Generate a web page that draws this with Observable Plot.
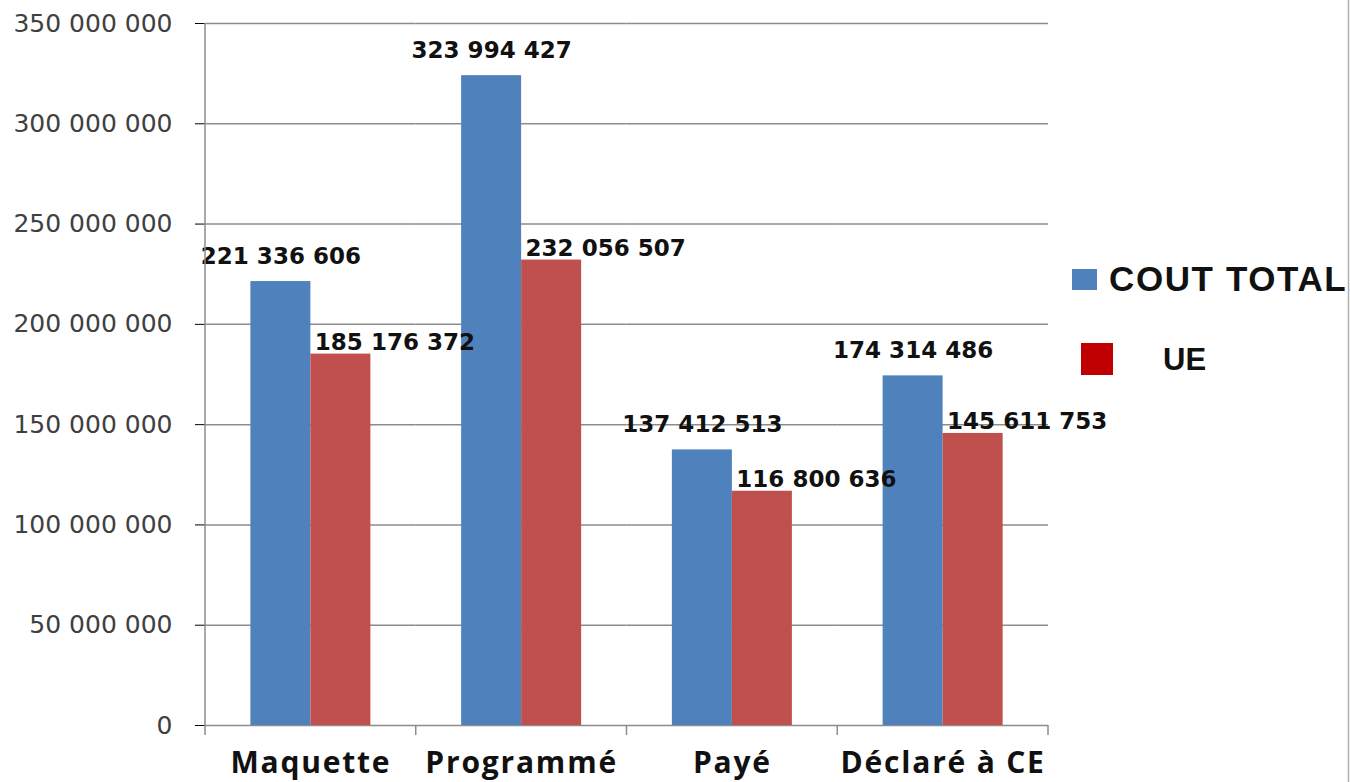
<!DOCTYPE html>
<html>
<head>
<meta charset="utf-8">
<script src="https://cdn.jsdelivr.net/npm/d3@7"></script>
<script src="https://cdn.jsdelivr.net/npm/@observablehq/plot@0.6"></script>
<style>
  html, body { margin: 0; padding: 0; background: #fff; }
  #chart { position: relative; width: 1350px; height: 782px; overflow: hidden; }
  svg { font-family: "DejaVu Sans", sans-serif; }
  [aria-label^="fx-axis"] text { font-family: "Open Sans", sans-serif; font-weight: 700; font-size: 30px; letter-spacing: 1.8px; fill: #111; }
  [aria-label^="y-axis"] text { font-family: "DejaVu Sans", sans-serif; font-size: 25px; fill: #404040; }
</style>
</head>
<body>
<div id="chart"></div>
<script>
const categories = ["Maquette", "Programmé", "Payé", "Déclaré à CE"];
const seriesNames = ["COUT TOTAL", "UE"];
const coutTotal = [221336606, 323994427, 137412513, 174314486];
const ue = [185176372, 232056507, 116800636, 145611753];
const yTicks = [0, 50000000, 100000000, 150000000, 200000000, 250000000, 300000000, 350000000];
const barColors = ["#4F81BD", "#C0504D"];
const legendColors = ["#4F81BD", "#C00000"];

const locale = d3.formatLocale({decimal: ",", thousands: " ", grouping: [3], currency: ["", ""]});
const fmt = locale.format(",d");

const data = [];
categories.forEach((c, i) => {
  data.push({cat: c, series: seriesNames[0], value: coutTotal[i]});
  data.push({cat: c, series: seriesNames[1], value: ue[i]});
});

const plot = Plot.plot({
  width: 1350,
  height: 782,
  marginTop: 23,
  marginBottom: 57,
  marginLeft: 205,
  marginRight: 302,
  style: {background: "#fff", overflow: "visible"},
  fx: {domain: categories, paddingInner: 0, paddingOuter: 0, round: false, axis: "bottom", tickSize: 0, tickPadding: 26, label: null},
  x: {domain: seriesNames, paddingInner: 0, paddingOuter: 0.756, axis: null, round: false},
  y: {domain: [0, 350000000], ticks: yTicks, tickFormat: fmt, tickSize: 10, tickPadding: 23, label: null},
  color: {domain: seriesNames, range: barColors},
  marks: [
    Plot.ruleY(yTicks, {stroke: "#8c8c8c", strokeWidth: 1.5}),
    Plot.barY(data, {fx: "cat", x: "series", y: "value", fill: "series", insetLeft: 0, insetRight: 0}),
    Plot.text(data.filter(d => d.series === seriesNames[0]), {
      fx: "cat", x: "series", y: "value", text: d => fmt(d.value),
      lineAnchor: "bottom", dy: -18, fontSize: 23, fontWeight: "bold", fill: "#111",
      fontFamily: "DejaVu Sans"
    }),
    Plot.text(data.filter(d => d.series === seriesNames[1]), {
      fx: "cat", x: "series", y: "value", text: d => fmt(d.value),
      lineAnchor: "bottom", dx: 54, dy: -4, fontSize: 23, fontWeight: "bold", fill: "#111",
      fontFamily: "DejaVu Sans"
    })
  ]
});

document.getElementById("chart").appendChild(plot);

// axis lines and category separator ticks from Plot's scales
const svg = d3.select(plot);
const fx = plot.scale("fx");
const y = plot.scale("y");
const y0 = y.apply(0);
const yTop = y.apply(350000000);
const g = svg.append("g").attr("stroke", "#8c8c8c").attr("stroke-width", 1.5);
const x0 = fx.apply(categories[0]);
g.append("line").attr("x1", x0).attr("x2", x0).attr("y1", yTop).attr("y2", y0 + 10);
categories.map(c => fx.apply(c) + fx.bandwidth).forEach(x => {
  g.append("line").attr("x1", x).attr("x2", x).attr("y1", y0).attr("y2", y0 + 10);
});

// right border of the picture
svg.append("line").attr("x1", 1348.5).attr("x2", 1348.5).attr("y1", 0).attr("y2", 782)
  .attr("stroke", "#b0b0b0").attr("stroke-width", 1.5);

// legend
const lg = svg.append("g").attr("text-anchor", "start");
lg.append("rect").attr("x", 1072).attr("y", 269).attr("width", 25).attr("height", 21).attr("fill", legendColors[0]);
lg.append("text").attr("x", 1109).attr("y", 291).attr("text-anchor", "start").text(seriesNames[0])
  .attr("font-family", "Liberation Sans, Arial, sans-serif").attr("font-weight", "bold").attr("font-size", 35)
  .attr("letter-spacing", 1.6).attr("fill", "#111");
lg.append("rect").attr("x", 1081).attr("y", 343).attr("width", 32).attr("height", 32).attr("fill", legendColors[1]);
lg.append("text").attr("x", 1163).attr("y", 370).attr("text-anchor", "start").text(seriesNames[1])
  .attr("font-family", "Liberation Sans, Arial, sans-serif").attr("font-weight", "bold").attr("font-size", 31).attr("fill", "#111");
</script>
</body>
</html>
